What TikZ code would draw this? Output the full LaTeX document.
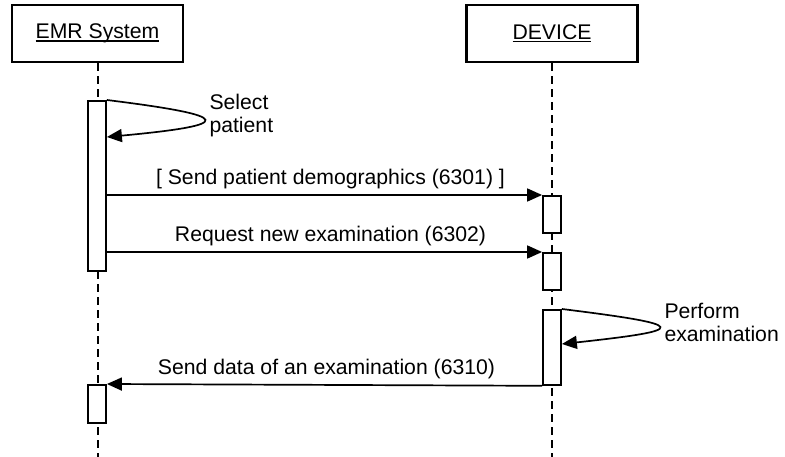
\documentclass[tikz,border=0pt]{standalone}
\usepackage{fontspec}
\setmainfont{Liberation Sans}
\usetikzlibrary{arrows.meta}
\newcommand{\objname}[1]{\setbox0\hbox{#1}\rlap{\raisebox{-3pt}{\rule{\wd0}{1.5pt}}}\box0}

\begin{document}
\begin{tikzpicture}[x=1pt,y=-1pt,>={Triangle[length=15pt,width=13pt]},
  every node/.style={font=\fontsize{21.2}{23}\selectfont},
  object/.style={draw,line width=2.2pt,minimum width=171pt,minimum height=57pt,inner sep=0pt},
  lifeline/.style={line width=2pt,dash pattern=on 8pt off 5pt},
  bar/.style={draw,fill=white,line width=1.8pt,minimum width=18pt,inner sep=0pt,anchor=north},
  msg/.style={->,line width=1.7pt},
  msglabel/.style={midway,anchor=base,yshift=10pt,xshift=6pt}]
  \useasboundingbox (0,0) rectangle (785,457);
  \node[object] (emr) at (97.5,33.5) {\objname{EMR System}};
  \node[object] (dev) at (552,33.5) {\objname{DEVICE}};
  \coordinate (emr end) at (97.5,457);
  \coordinate (dev end) at (552,457);
  \draw[lifeline] (emr) -- (emr end);
  \draw[lifeline] (dev) -- (dev end);
  % activations
  \node[bar,minimum height=170pt] (a1) at (97,100) {};
  \node[bar,minimum height=37pt] (a2) at (552,195) {};
  \node[bar,minimum height=37pt] (a3) at (552,252) {};
  \node[bar,minimum height=75pt] (a4) at (552,309) {};
  \node[bar,minimum height=38pt] (a5) at (97,384) {};
  % messages
  \draw[msg] (a1.north east) .. controls +(129,16) and +(129,-12) .. ([yshift=-37pt]a1.north east)
    node[pos=0.5,anchor=west,xshift=5pt,yshift=4pt,align=left,inner sep=0pt] {Select\\patient};
  \draw[msg] (a1.east |- a2.north) -- (a2.north west) node[msglabel] {[ Send patient demographics (6301) ]};
  \draw[msg] (a1.east |- a3.north) -- (a3.north west) node[msglabel] {Request new examination (6302)};
  \draw[msg] (a4.north east) .. controls +(129,16) and +(129,-14) .. ([yshift=-35pt]a4.north east)
    node[pos=0.5,anchor=west,xshift=5pt,yshift=5pt,align=left,inner sep=0pt] {Perform\\examination};
  \draw[msg] (a4.south west) -- (a5.north east) node[msglabel,xshift=-4pt] {Send data of an examination (6310)};
\end{tikzpicture}
\end{document}
